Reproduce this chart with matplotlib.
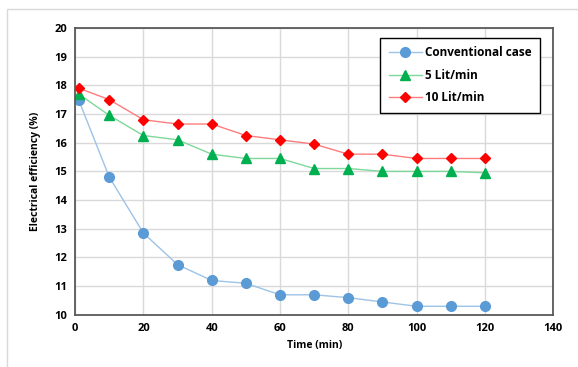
import matplotlib
matplotlib.use("Agg")
import matplotlib.pyplot as plt
from matplotlib.patches import Rectangle

# data
time = [1, 10, 20, 30, 40, 50, 60, 70, 80, 90, 100, 110, 120]
conventional = [17.5, 14.8, 12.85, 11.75, 11.2, 11.1, 10.7, 10.7, 10.6, 10.45, 10.3, 10.3, 10.3]
flow_5 = [17.7, 16.95, 16.25, 16.1, 15.6, 15.45, 15.45, 15.1, 15.1, 15.0, 15.0, 15.0, 14.95]
flow_10 = [17.9, 17.5, 16.8, 16.65, 16.65, 16.25, 16.1, 15.95, 15.6, 15.6, 15.45, 15.45, 15.45]

x_ticks = [0, 20, 40, 60, 80, 100, 120, 140]
y_ticks = list(range(10, 21))

plt.rcParams['font.family'] = ['Open Sans', 'DejaVu Sans']

fig = plt.figure(figsize=(5.78, 3.67), dpi=100)
# faint chart-area border like the spreadsheet export
fig.patches.append(Rectangle((0.012, -0.05), 1.2, 0.025 + 1.0, transform=fig.transFigure,
                             fill=False, edgecolor='#D9D9D9', lw=1))
ax = fig.add_axes([0.13, 0.142, 0.827, 0.782])

ax.plot(time, conventional, color='#9DC3E6', lw=1, marker='o', ms=7,
        mfc='#5B9BD5', mec='#5B9BD5', label='Conventional case')
ax.plot(time, flow_5, color='#7FD89A', lw=1, marker='^', ms=7,
        mfc='#00B050', mec='#00B050', label='5 Lit/min')
ax.plot(time, flow_10, color='#FF7C7C', lw=1, marker='D', ms=5.5,
        mfc='#FF0000', mec='#FF0000', label='10 Lit/min')

ax.set_xlim(0, 140)
ax.set_ylim(10, 20)
ax.set_xticks(x_ticks)
ax.set_yticks(y_ticks)
ax.grid(True, color='#D9D9D9', lw=1)
ax.set_axisbelow(True)
ax.tick_params(length=0, labelsize=8, pad=6)
for lab in ax.get_xticklabels() + ax.get_yticklabels():
    lab.set_fontweight('bold')
for sp in ax.spines.values():
    sp.set_color('#595959')
    sp.set_linewidth(1.3)

ax.set_xlabel('Time (min)', fontsize=7.5, fontweight='bold', labelpad=4)
ax.set_ylabel('Electrical efficiency (%)', fontsize=7.5, fontweight='bold', labelpad=9)

leg = ax.legend(loc='upper right', bbox_to_anchor=(0.985, 0.985), fancybox=False,
                edgecolor='black', framealpha=1, prop={'size': 8.5, 'weight': 'bold'},
                handlelength=2.8, borderpad=0.7, labelspacing=0.8, handletextpad=0.3)
leg.get_frame().set_linewidth(1)

fig.savefig('out.png', dpi=100)
